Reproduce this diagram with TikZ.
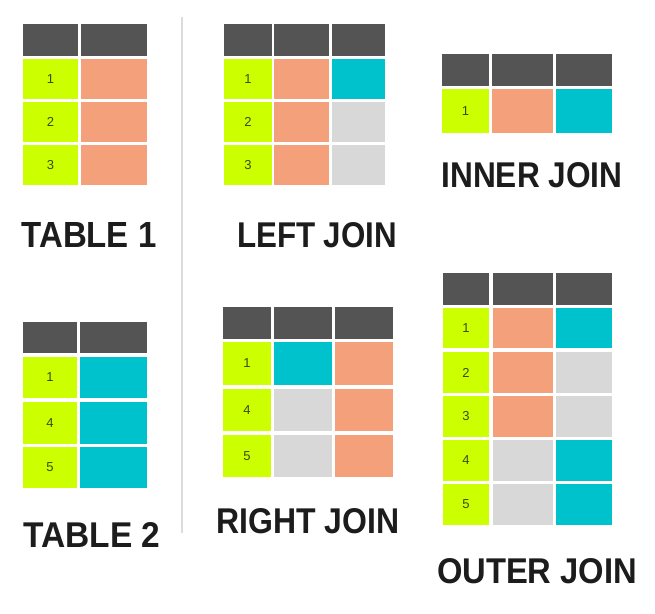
\documentclass[tikz,border=0pt]{standalone}
\usepackage{fontspec}
\setmainfont{Liberation Sans}
\usepackage{graphicx}
\definecolor{hdr}{HTML}{545454}
\definecolor{lime}{HTML}{CCFF00}
\definecolor{salmon}{HTML}{F4A07A}
\definecolor{teal}{HTML}{00C2CC}
\definecolor{nul}{HTML}{D8D8D8}
\definecolor{num}{HTML}{3B4A10}
\definecolor{ink}{HTML}{1C1C1C}
\definecolor{sep}{HTML}{DCDCDC}
\newcommand\cellat[7]{\node[cellbox, fill=#6, minimum width={(#4-#2)*1pt}, minimum height={(#5-#3)*1pt}] (#1) at ({(#2+#4)/2},{(#3+#5)/2}) {#7};}
\newcommand\lbl[5]{\node[lblbox] (#1) at (#2,#3) {\resizebox{#4pt}{25pt}{#5}};}
\begin{document}
\begin{tikzpicture}[x=1pt,y=-1pt,
  cellbox/.style={inner sep=0pt, outer sep=0pt, draw=none, text=num, font=\fontsize{13}{13}\selectfont},
  lblbox/.style={inner sep=0pt, text=ink, font=\fontsize{34}{34}\selectfont\bfseries},
  divider/.style={draw=sep, line width=1.5pt}]
\useasboundingbox[fill=white] (0,0) rectangle (655,613);
% divider
\coordinate (dtop) at (182,17);
\coordinate (dbot) at (182,533);
\draw[divider] (dtop) -- (dbot);
% ---- TABLE 1
\cellat{ta}{23}{24}{78}{56}{hdr}{}
\cellat{tb}{81}{24}{147}{56}{hdr}{}
\cellat{ta1}{23}{59}{78}{99}{lime}{1}
\cellat{tb1}{81}{59}{147}{99}{salmon}{}
\cellat{ta2}{23}{102}{78}{142}{lime}{2}
\cellat{tb2}{81}{102}{147}{142}{salmon}{}
\cellat{ta3}{23}{145}{78}{185}{lime}{3}
\cellat{tb3}{81}{145}{147}{185}{salmon}{}
\lbl{l1}{89}{235}{135}{TABLE 1}
% ---- LEFT JOIN
\cellat{la}{224}{24}{272}{56}{hdr}{}
\cellat{lb}{274}{24}{329}{56}{hdr}{}
\cellat{lc}{332}{24}{385}{56}{hdr}{}
\cellat{la1}{224}{59}{272}{99}{lime}{1}
\cellat{lb1}{274}{59}{329}{99}{salmon}{}
\cellat{lc1}{332}{59}{385}{99}{teal}{}
\cellat{la2}{224}{102}{272}{142}{lime}{2}
\cellat{lb2}{274}{102}{329}{142}{salmon}{}
\cellat{lc2}{332}{102}{385}{142}{nul}{}
\cellat{la3}{224}{145}{272}{185}{lime}{3}
\cellat{lb3}{274}{145}{329}{185}{salmon}{}
\cellat{lc3}{332}{145}{385}{185}{nul}{}
\lbl{l2}{317}{235}{160}{LEFT JOIN}
% ---- INNER JOIN
\cellat{ia}{442}{54}{489}{86}{hdr}{}
\cellat{ib}{492}{54}{553}{86}{hdr}{}
\cellat{ic}{556}{54}{612}{86}{hdr}{}
\cellat{ia1}{442}{89}{489}{133}{lime}{1}
\cellat{ib1}{492}{89}{553}{133}{salmon}{}
\cellat{ic1}{556}{89}{612}{133}{teal}{}
\lbl{l3}{532}{175}{181}{INNER JOIN}
% ---- TABLE 2
\cellat{sa}{23}{322}{77}{353}{hdr}{}
\cellat{sb}{80}{322}{147}{353}{hdr}{}
\cellat{sa1}{23}{357}{77}{398}{lime}{1}
\cellat{sb1}{80}{357}{147}{398}{teal}{}
\cellat{sa2}{23}{402}{77}{444}{lime}{4}
\cellat{sb2}{80}{402}{147}{444}{teal}{}
\cellat{sa3}{23}{447}{77}{488}{lime}{5}
\cellat{sb3}{80}{447}{147}{488}{teal}{}
\lbl{l4}{92}{535}{137}{TABLE 2}
% ---- RIGHT JOIN
\cellat{ra}{223}{307}{271}{339}{hdr}{}
\cellat{rb}{274}{307}{332}{339}{hdr}{}
\cellat{rc}{335}{307}{393}{339}{hdr}{}
\cellat{ra1}{223}{342}{271}{385}{lime}{1}
\cellat{rb1}{274}{342}{332}{385}{teal}{}
\cellat{rc1}{335}{342}{393}{385}{salmon}{}
\cellat{ra2}{223}{389}{271}{431}{lime}{4}
\cellat{rb2}{274}{389}{332}{431}{nul}{}
\cellat{rc2}{335}{389}{393}{431}{salmon}{}
\cellat{ra3}{223}{435}{271}{477}{lime}{5}
\cellat{rb3}{274}{435}{332}{477}{nul}{}
\cellat{rc3}{335}{435}{393}{477}{salmon}{}
\lbl{l5}{308}{521}{183}{RIGHT JOIN}
% ---- OUTER JOIN
\cellat{oa}{443}{273}{489}{305}{hdr}{}
\cellat{ob}{493}{273}{553}{305}{hdr}{}
\cellat{oc}{556}{273}{612}{305}{hdr}{}
\cellat{oa1}{443}{308}{489}{348}{lime}{1}
\cellat{ob1}{493}{308}{553}{348}{salmon}{}
\cellat{oc1}{556}{308}{612}{348}{teal}{}
\cellat{oa2}{443}{352}{489}{393}{lime}{2}
\cellat{ob2}{493}{352}{553}{393}{salmon}{}
\cellat{oc2}{556}{352}{612}{393}{nul}{}
\cellat{oa3}{443}{396}{489}{437}{lime}{3}
\cellat{ob3}{493}{396}{553}{437}{salmon}{}
\cellat{oc3}{556}{396}{612}{437}{nul}{}
\cellat{oa4}{443}{440}{489}{481}{lime}{4}
\cellat{ob4}{493}{440}{553}{481}{nul}{}
\cellat{oc4}{556}{440}{612}{481}{teal}{}
\cellat{oa5}{443}{484}{489}{525}{lime}{5}
\cellat{ob5}{493}{484}{553}{525}{nul}{}
\cellat{oc5}{556}{484}{612}{525}{teal}{}
\lbl{l6}{537}{571}{200}{OUTER JOIN}
\end{tikzpicture}
\end{document}
